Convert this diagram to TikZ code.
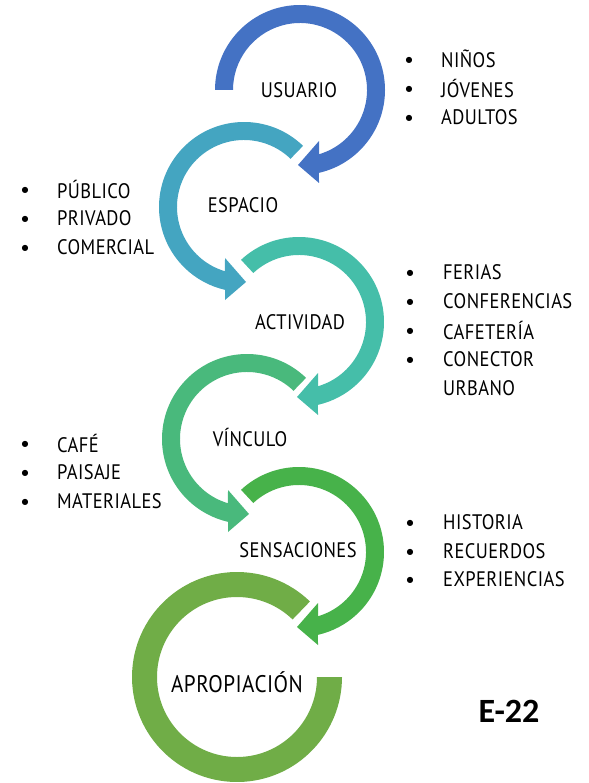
\documentclass[tikz,border=0pt]{standalone}
\usepackage{fontspec}
\setmainfont{PT Sans}[FakeStretch=0.88,LetterSpace=2]
\newfontfamily\bulfont{DejaVu Sans}
\newfontfamily\efont{Carlito}
\definecolor{cUsu}{HTML}{4472C4}
\definecolor{cEsp}{HTML}{44A5C1}
\definecolor{cAct}{HTML}{45BEA9}
\definecolor{cVin}{HTML}{49B97C}
\definecolor{cSen}{HTML}{47B24A}
\definecolor{cApr}{HTML}{70AD47}
\newcommand\cwarrow[4]{%
  \begin{scope}[shift={(#1,-#2)}]
    \fill[#4] (#3:85) arc[start angle=#3,end angle=-77.1,radius=85]
      -- (19,-93) -- (-2,-75) -- (19,-51) -- (-73.5:67)
      arc[start angle=-73.5,end angle=#3,radius=67] -- cycle;
  \end{scope}}
\newcommand\ccwarrow[4]{%
  \begin{scope}[shift={(#1,-#2)}]
    \fill[#4] (#3:85) arc[start angle=#3,end angle=257.1,radius=85]
      -- (-19,-93) -- (2,-75) -- (-19,-51) -- (253.5:67)
      arc[start angle=253.5,end angle=#3,radius=67] -- cycle;
  \end{scope}}
\begin{document}
\begin{tikzpicture}[x=1pt,y=1pt,
  lbl/.style={font=\fontsize{21}{24}\selectfont, inner sep=0pt},
  big/.style={font=\fontsize{24}{28}\selectfont, inner sep=0pt},
  itm/.style={font=\fontsize{21}{24}\selectfont, inner sep=0pt, anchor=west},
  bul/.style={font=\bulfont\fontsize{8}{10}\selectfont, inner sep=0pt}]
\useasboundingbox (0,0) rectangle (588,-783);
\cwarrow{300}{90}{180}{cUsu}
\ccwarrow{244}{207}{46}{cEsp}
\cwarrow{299}{322}{133}{cAct}
\ccwarrow{247}{439}{46}{cVin}
\cwarrow{299}{552}{133}{cSen}
\begin{scope}[shift={(237,-677)}]
  \fill[cApr] (46:105) arc[start angle=46,end angle=360,radius=105]
    -- (0:80) arc[start angle=360,end angle=46,radius=80] -- cycle;
\end{scope}
\node[lbl] (usu) at (299,-90) {USUARIO};
\node[lbl] (esp) at (243,-205) {ESPACIO};
\node[lbl] (act) at (300,-322) {ACTIVIDAD};
\node[lbl] (vin) at (250,-437) {VÍNCULO};
\node[lbl] (sen) at (298,-550) {SENSACIONES};
\node[big] (apr) at (237,-682) {APROPIACIÓN};
% right list 1
\node[bul] (b1) at (409,-60) {●}; \node[itm] (t1) at (441,-59) {NIÑOS};
\node[bul] (b2) at (409,-89) {●}; \node[itm] (t2) at (441,-88) {JÓVENES};
\node[bul] (b3) at (409,-118) {●}; \node[itm] (t3) at (441,-117) {ADULTOS};
% left list 1
\node[bul] (b4) at (25,-190) {●}; \node[itm] (t4) at (57,-189) {PÚBLICO};
\node[bul] (b5) at (25,-219) {●}; \node[itm] (t5) at (57,-218) {PRIVADO};
\node[bul] (b6) at (25,-248) {●}; \node[itm] (t6) at (57,-247) {COMERCIAL};
% right list 2
\node[bul] (b7) at (410,-273) {●}; \node[itm] (t7) at (443,-272) {FERIAS};
\node[bul] (b8) at (410,-302) {●}; \node[itm] (t8) at (443,-301) {CONFERENCIAS};
\node[bul] (b9) at (410,-331) {●}; \node[itm] (t9) at (443,-330) {CAFETERÍA};
\node[bul] (b10) at (410,-360) {●}; \node[itm] (t10) at (443,-359) {CONECTOR};
\node[itm] (t11) at (443,-388) {URBANO};
% left list 2
\node[bul] (b12) at (25,-444) {●}; \node[itm] (t12) at (57,-443) {CAFÉ};
\node[bul] (b13) at (25,-473) {●}; \node[itm] (t13) at (57,-472) {PAISAJE};
\node[bul] (b14) at (25,-502) {●}; \node[itm] (t14) at (57,-501) {MATERIALES};
% right list 3
\node[bul] (b15) at (410,-523) {●}; \node[itm] (t15) at (443,-522) {HISTORIA};
\node[bul] (b16) at (410,-552) {●}; \node[itm] (t16) at (443,-551) {RECUERDOS};
\node[bul] (b17) at (410,-580) {●}; \node[itm] (t17) at (443,-579) {EXPERIENCIAS};
\node[font=\efont\bfseries\fontsize{34}{40}\selectfont, inner sep=0pt] (e22) at (509,-711) {E-22};
\end{tikzpicture}
\end{document}
